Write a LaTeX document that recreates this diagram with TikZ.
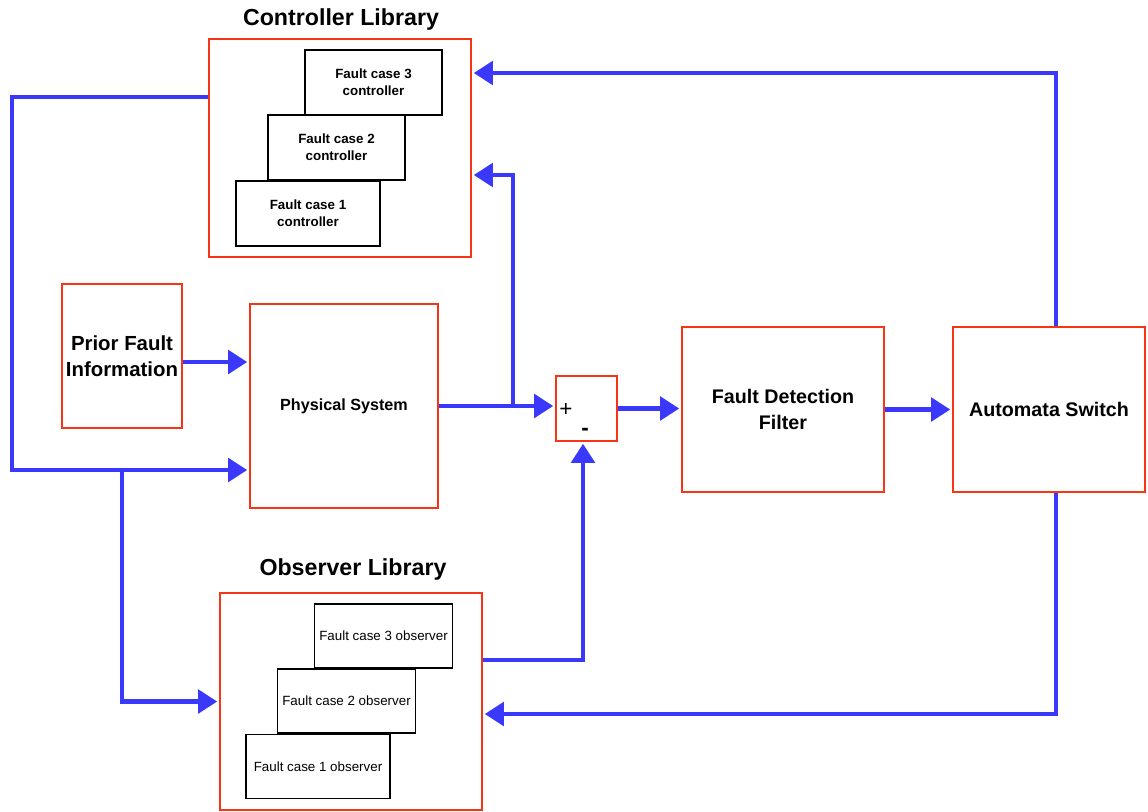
\documentclass[tikz,border=0pt]{standalone}
\usepackage{fontspec}
\setmainfont{Liberation Sans}
\usetikzlibrary{arrows.meta}
\definecolor{boxred}{RGB}{246,52,22}
\definecolor{wireblue}{RGB}{58,56,250}

\begin{document}
\begin{tikzpicture}[x=0.025cm, y=-0.025cm,
		redbox/.style={draw=boxred, line width=1.8pt, fill=white, align=center, inner sep=2pt},
		ctrlcase/.style={draw, line width=1.4pt, fill=white, align=center, minimum width=3.425cm, minimum height=1.625cm, font=\fontsize{9.5}{12}\selectfont\bfseries},
		obscase/.style={draw, line width=0.9pt, fill=white, minimum width=3.425cm, minimum height=1.6cm, font=\fontsize{9.5}{12}\selectfont},
		libtitle/.style={font=\fontsize{16.5}{19}\selectfont\bfseries},
		wire/.style={draw=wireblue, line width=3.5pt},
		arrow/.style={wire, -{Triangle[length=0.48cm,width=0.58cm]}, shorten >=1pt}
	]
	\useasboundingbox (0,0) rectangle (1148,811);

	% controller library
	\node[redbox, minimum width=6.55cm, minimum height=5.45cm] (ctrllib) at (340,148) {};
	\node[libtitle] (ctrltitle) at (341,19) {Controller Library};
	\node[ctrlcase] (fc3c) at (373.5,82.5) {Fault case 3\\controller};
	\node[ctrlcase] (fc2c) at (336.5,147.5) {Fault case 2\\controller};
	\node[ctrlcase, minimum width=3.6cm] (fc1c) at (308,213.5) {Fault case 1\\controller};

	% observer library
	\node[redbox, minimum width=6.55cm, minimum height=5.425cm] (obslib) at (351,701.5) {};
	\node[libtitle] (obstitle) at (353,569) {Observer Library};
	\node[obscase] (fc3o) at (383.5,636) {Fault case 3 observer};
	\node[obscase] (fc2o) at (346.5,701) {Fault case 2 observer};
	\node[obscase, minimum width=3.6cm] (fc1o) at (318,766.5) {Fault case 1 observer};

	% main loop
	\node[redbox, minimum width=3cm, minimum height=3.6cm, font=\fontsize{14.5}{18.4}\selectfont\bfseries] (prior) at (122,356) {Prior Fault\\Information};
	\node[redbox, minimum width=4.7cm, minimum height=5.1cm, font=\fontsize{11.5}{13}\selectfont\bfseries] (phys) at (344,406) {Physical System};
	\node[redbox, minimum width=1.525cm, minimum height=1.625cm] (sum) at (586.5,408.5) {};
	\node[font=\fontsize{16}{18}\selectfont] (plus) at (566,410) {+};
	\node[font=\fontsize{16}{16}\selectfont\bfseries] (minus) at (585,432) {-};
	\node[redbox, minimum width=5.05cm, minimum height=4.125cm, font=\fontsize{14}{18.4}\selectfont\bfseries] (fdf) at (783,409.5) {Fault Detection\\Filter};
	\node[redbox, minimum width=4.8cm, minimum height=4.125cm, font=\fontsize{14}{18.4}\selectfont\bfseries] (switch) at (1049,409.5) {Automata Switch};

	% bends of the wires
	\coordinate (cl) at (12,97);
	\coordinate (cb) at (12,470);
	\coordinate (ob) at (122,470);
	\coordinate (tap) at (513,175);
	\coordinate (tr) at (1056,73);
	\coordinate (br) at (1056,714);
	\coordinate (om) at (583,660);

	\draw[arrow] (ctrllib.west |- cl) -- (cl) -- (cb) -- (phys.west |- cb);
	\draw[arrow] (ob) |- (obslib.west);
	\draw[arrow] ([yshift=-0.15cm]prior.east) -- ([yshift=-0.15cm]prior.east -| phys.west);
	\draw[arrow] (phys.east) -- (phys.east -| sum.west);
	\draw[arrow] (tap |- phys.east) -- (tap) -- (tap -| ctrllib.east);
	\draw[arrow] (sum.east) -- (sum.east -| fdf.west);
	\draw[arrow] (fdf.east) -- (switch.west);
	\draw[arrow] (tr |- switch.north) -- (tr) -- (tr -| ctrllib.east);
	\draw[arrow] (br |- switch.south) -- (br) -- (br -| obslib.east);
	\draw[arrow] (om -| obslib.east) -- (om) -- (om |- sum.south);

\end{tikzpicture}
\end{document}
